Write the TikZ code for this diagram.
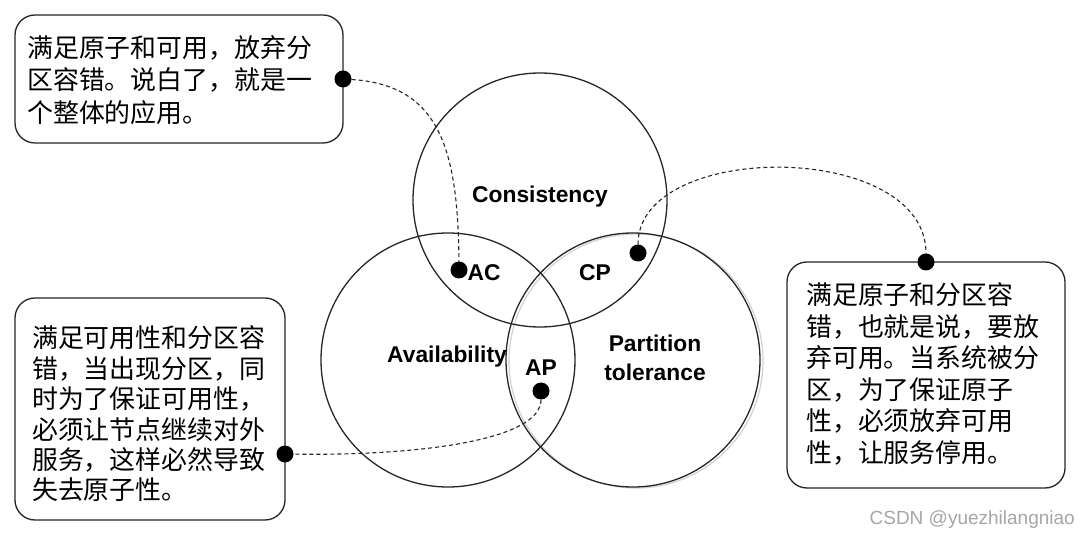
\documentclass[tikz,border=0pt]{standalone}
\usepackage{fontspec}
\setmainfont{Liberation Sans}
\newfontfamily\cjk{Noto Sans CJK SC}
\begin{document}
\begin{tikzpicture}[x=1pt,y=-1pt,
  venn/.style={draw=black!85,line width=1.3pt,circle,minimum size=254pt,inner sep=0pt},
  lbl/.style={font=\fontsize{22.8}{28.5}\selectfont\bfseries,inner sep=0pt,align=center},
  callbox/.style={draw=black!85,line width=1.3pt,rounded corners=20pt,inner sep=0pt},
  cjktext/.style={font=\cjk\fontsize{25.9}{30.4}\selectfont,align=left,inner sep=0pt,anchor=west},
  dot/.style={circle,fill=black,inner sep=0pt,minimum size=17pt},
  conn/.style={draw=black!85,line width=1.1pt,dash pattern=on 4pt off 3pt}]
\path[use as bounding box] (0,0) rectangle (1080,537);
\fill[white] (0,0) rectangle (1080,537);
% circles
\draw[gray!35,line width=1.2pt] (636,361) circle (127pt);
\node[venn] (C) at (540,200) {};
\node[venn] (A) at (448,360) {};
\node[venn] (P) at (633,360) {};
% labels
\node[lbl] (lC) at (540,197) {Consistency};
\node[lbl] (lAv) at (447,357) {Availability};
\node[lbl] (lP) at (655,358) {Partition\\tolerance};
\node[lbl] (lAC) at (484,273) {AC};
\node[lbl] (lCP) at (595,273) {CP};
\node[lbl] (lAP) at (541,368) {AP};
% boxes
\node[callbox,minimum width=328pt,minimum height=128pt] (bA) at (179,79) {};
\node[callbox,minimum width=270pt,minimum height=222pt] (bB) at (150,409) {};
\node[callbox,minimum width=278pt,minimum height=226pt] (bC) at (926,375) {};
\node[cjktext,font=\cjk\fontsize{25.9}{32.3}\selectfont] (tA) at (27,80) {满足原子和可用，放弃分\\区容错。说白了，就是一\\个整体的应用。};
\node[cjktext] (tB) at (32,414) {满足可用性和分区容\\错，当出现分区，同\\时为了保证可用性，\\必须让节点继续对外\\服务，这样必然导致\\失去原子性。};
\node[cjktext,font=\cjk\fontsize{25.9}{31.6}\selectfont] (tC) at (806,374) {满足原子和分区容\\错，也就是说，要放\\弃可用。当系统被分\\区，为了保证原子\\性，必须放弃可用\\性，让服务停用。};
% dots
\node[dot] (dA) at (343,79) {};
\node[dot] (dAC) at (459,270) {};
\node[dot] (dCP) at (638,253) {};
\node[dot] (dC) at (926,262) {};
\node[dot] (dAP) at (541,391) {};
\node[dot] (dB) at (285,454) {};
% connectors
\draw[conn] (dA) .. controls (440,85) and (458,150) .. (dAC);
\draw[conn] (dCP) .. controls (638,140) and (926,140) .. (dC);
\draw[conn] (dAP) .. controls (541,440) and (420,456) .. (dB);
% watermark
\node[anchor=east,text=black!35,font=\fontsize{19}{20}\selectfont,inner sep=0pt] (wm) at (1075,520) {CSDN @yuezhilangniao};
\end{tikzpicture}
\end{document}
